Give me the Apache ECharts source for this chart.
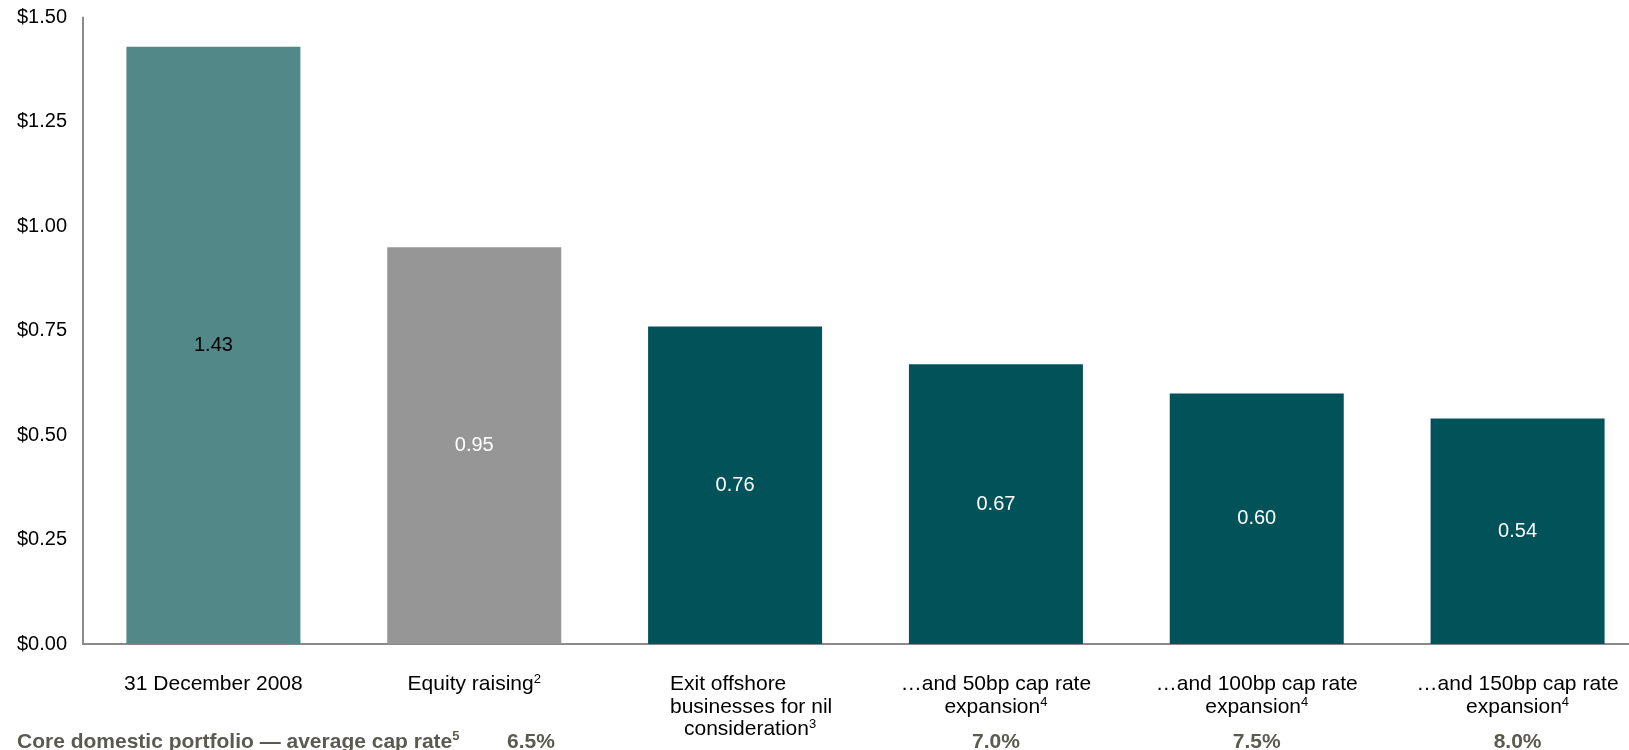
<!DOCTYPE html>
<html>
<head>
<meta charset="utf-8">
<title>NAV per security scenarios</title>
<script src="https://cdn.jsdelivr.net/npm/echarts@6/dist/echarts.min.js"></script>
<style>
  html, body { margin: 0; padding: 0; background: #ffffff; }
  #chart { width: 1629px; height: 750px; }
</style>
</head>
<body>
<div id="chart"></div>
<script>
// Scenario categories (line breaks as set in the axis labels)
const categories = [
  '31 December 2008',
  'Equity raising',
  'Exit offshore\nbusinesses for nil\nconsideration',
  '…and 50bp cap rate\nexpansion',
  '…and 100bp cap rate\nexpansion',
  '…and 150bp cap rate\nexpansion'
];
// Footnote markers attached to each category label
const footnotes = ['', '2', '3', '4', '4', '4'];
// NAV per security ($)
const navValues = [1.43, 0.95, 0.76, 0.67, 0.60, 0.54];
// Core domestic portfolio average cap rate under each scenario
const baseCapRate = '6.5%';
const capRates = ['', '', '', '7.0%', '7.5%', '8.0%'];
// Value axis ticks
const yMin = 0, yMax = 1.5, yStep = 0.25;

const FONT = "'Liberation Sans', Arial, Helvetica, sans-serif";
const barColors = ['#528888', '#969696', '#02525a', '#02525a', '#02525a', '#02525a'];
const labelColors = ['#000000', '#ffffff', '#ffffff', '#ffffff', '#ffffff', '#ffffff'];
const footerColor = '#5a5a52';
// the three-line label is set flush-left, nudged right of its bar centre
const RAGGED_LABEL = 2;

const chart = echarts.init(document.getElementById('chart'), null, { renderer: 'canvas' });

const option = {
  animation: false,
  backgroundColor: '#ffffff',
  // the category band of the last bar runs slightly past the right edge of the page
  grid: {
    left: 83, top: 17.5, width: 1565, height: 626.5,
    containLabel: false,
    outerBoundsMode: 'none'
  },
  xAxis: {
    type: 'category',
    data: categories,
    axisLine: { show: true, lineStyle: { color: '#8a8a8a', width: 2 } },
    axisTick: { show: false },
    axisLabel: {
      interval: 0,
      margin: 29,
      fontFamily: FONT,
      formatter: function (value, idx) {
        const lines = value.split('\n');
        const out = lines.map(function (ln, i) {
          const last = i === lines.length - 1;
          let tag = 't';
          if (idx === RAGGED_LABEL) tag = last ? 'tc' : 'tl';
          let s = '{' + tag + '|' + ln + '}';
          if (last && footnotes[idx]) s += '{sup|' + footnotes[idx] + '}';
          return s;
        });
        if (capRates[idx]) out.push('{pct|' + capRates[idx] + '}');
        return out.join('\n');
      },
      rich: {
        t: { fontFamily: FONT, fontSize: 21, lineHeight: 22.5, color: '#000000' },
        tl: { fontFamily: FONT, fontSize: 21, lineHeight: 22.5, color: '#000000', align: 'left', padding: [0, 0, 0, 32] },
        tc: { fontFamily: FONT, fontSize: 21, lineHeight: 22.5, color: '#000000', padding: [0, 0, 0, 30] },
        sup: { fontFamily: FONT, fontSize: 13, lineHeight: 12, verticalAlign: 'top', color: '#000000' },
        pct: { fontFamily: FONT, fontSize: 21, fontWeight: 'bold', lineHeight: 48, color: footerColor }
      }
    }
  },
  yAxis: {
    type: 'value',
    min: yMin,
    max: yMax,
    interval: yStep,
    splitLine: { show: false },
    axisTick: { show: false },
    axisLine: { show: true, lineStyle: { color: '#8a8a8a', width: 2 } },
    axisLabel: {
      margin: 16,
      fontFamily: FONT,
      fontSize: 20,
      color: '#000000',
      formatter: function (v) { return '$' + v.toFixed(2); }
    }
  },
  series: [{
    type: 'bar',
    data: navValues.map(function (v, i) {
      return {
        value: v,
        itemStyle: { color: barColors[i] },
        label: { color: labelColors[i] }
      };
    }),
    barWidth: 174,
    label: {
      show: true,
      position: 'inside',
      fontFamily: FONT,
      fontSize: 20,
      formatter: function (p) { return p.value.toFixed(2); }
    }
  }],
  graphic: [
    {
      type: 'text',
      left: 17,
      top: 730,
      style: {
        text: '{b|Core domestic portfolio — average cap rate}{s|5}',
        rich: {
          b: { fontFamily: FONT, fontSize: 21, fontWeight: 'bold', lineHeight: 24, fill: footerColor },
          s: { fontFamily: FONT, fontSize: 13, fontWeight: 'bold', lineHeight: 14, verticalAlign: 'top', fill: footerColor }
        }
      }
    },
    {
      type: 'text',
      x: 531,
      y: 742,
      style: {
        text: baseCapRate,
        align: 'center',
        verticalAlign: 'middle',
        fontFamily: FONT,
        fontSize: 21,
        fontWeight: 'bold',
        fill: footerColor
      }
    }
  ]
};

chart.setOption(option);
</script>
</body>
</html>
